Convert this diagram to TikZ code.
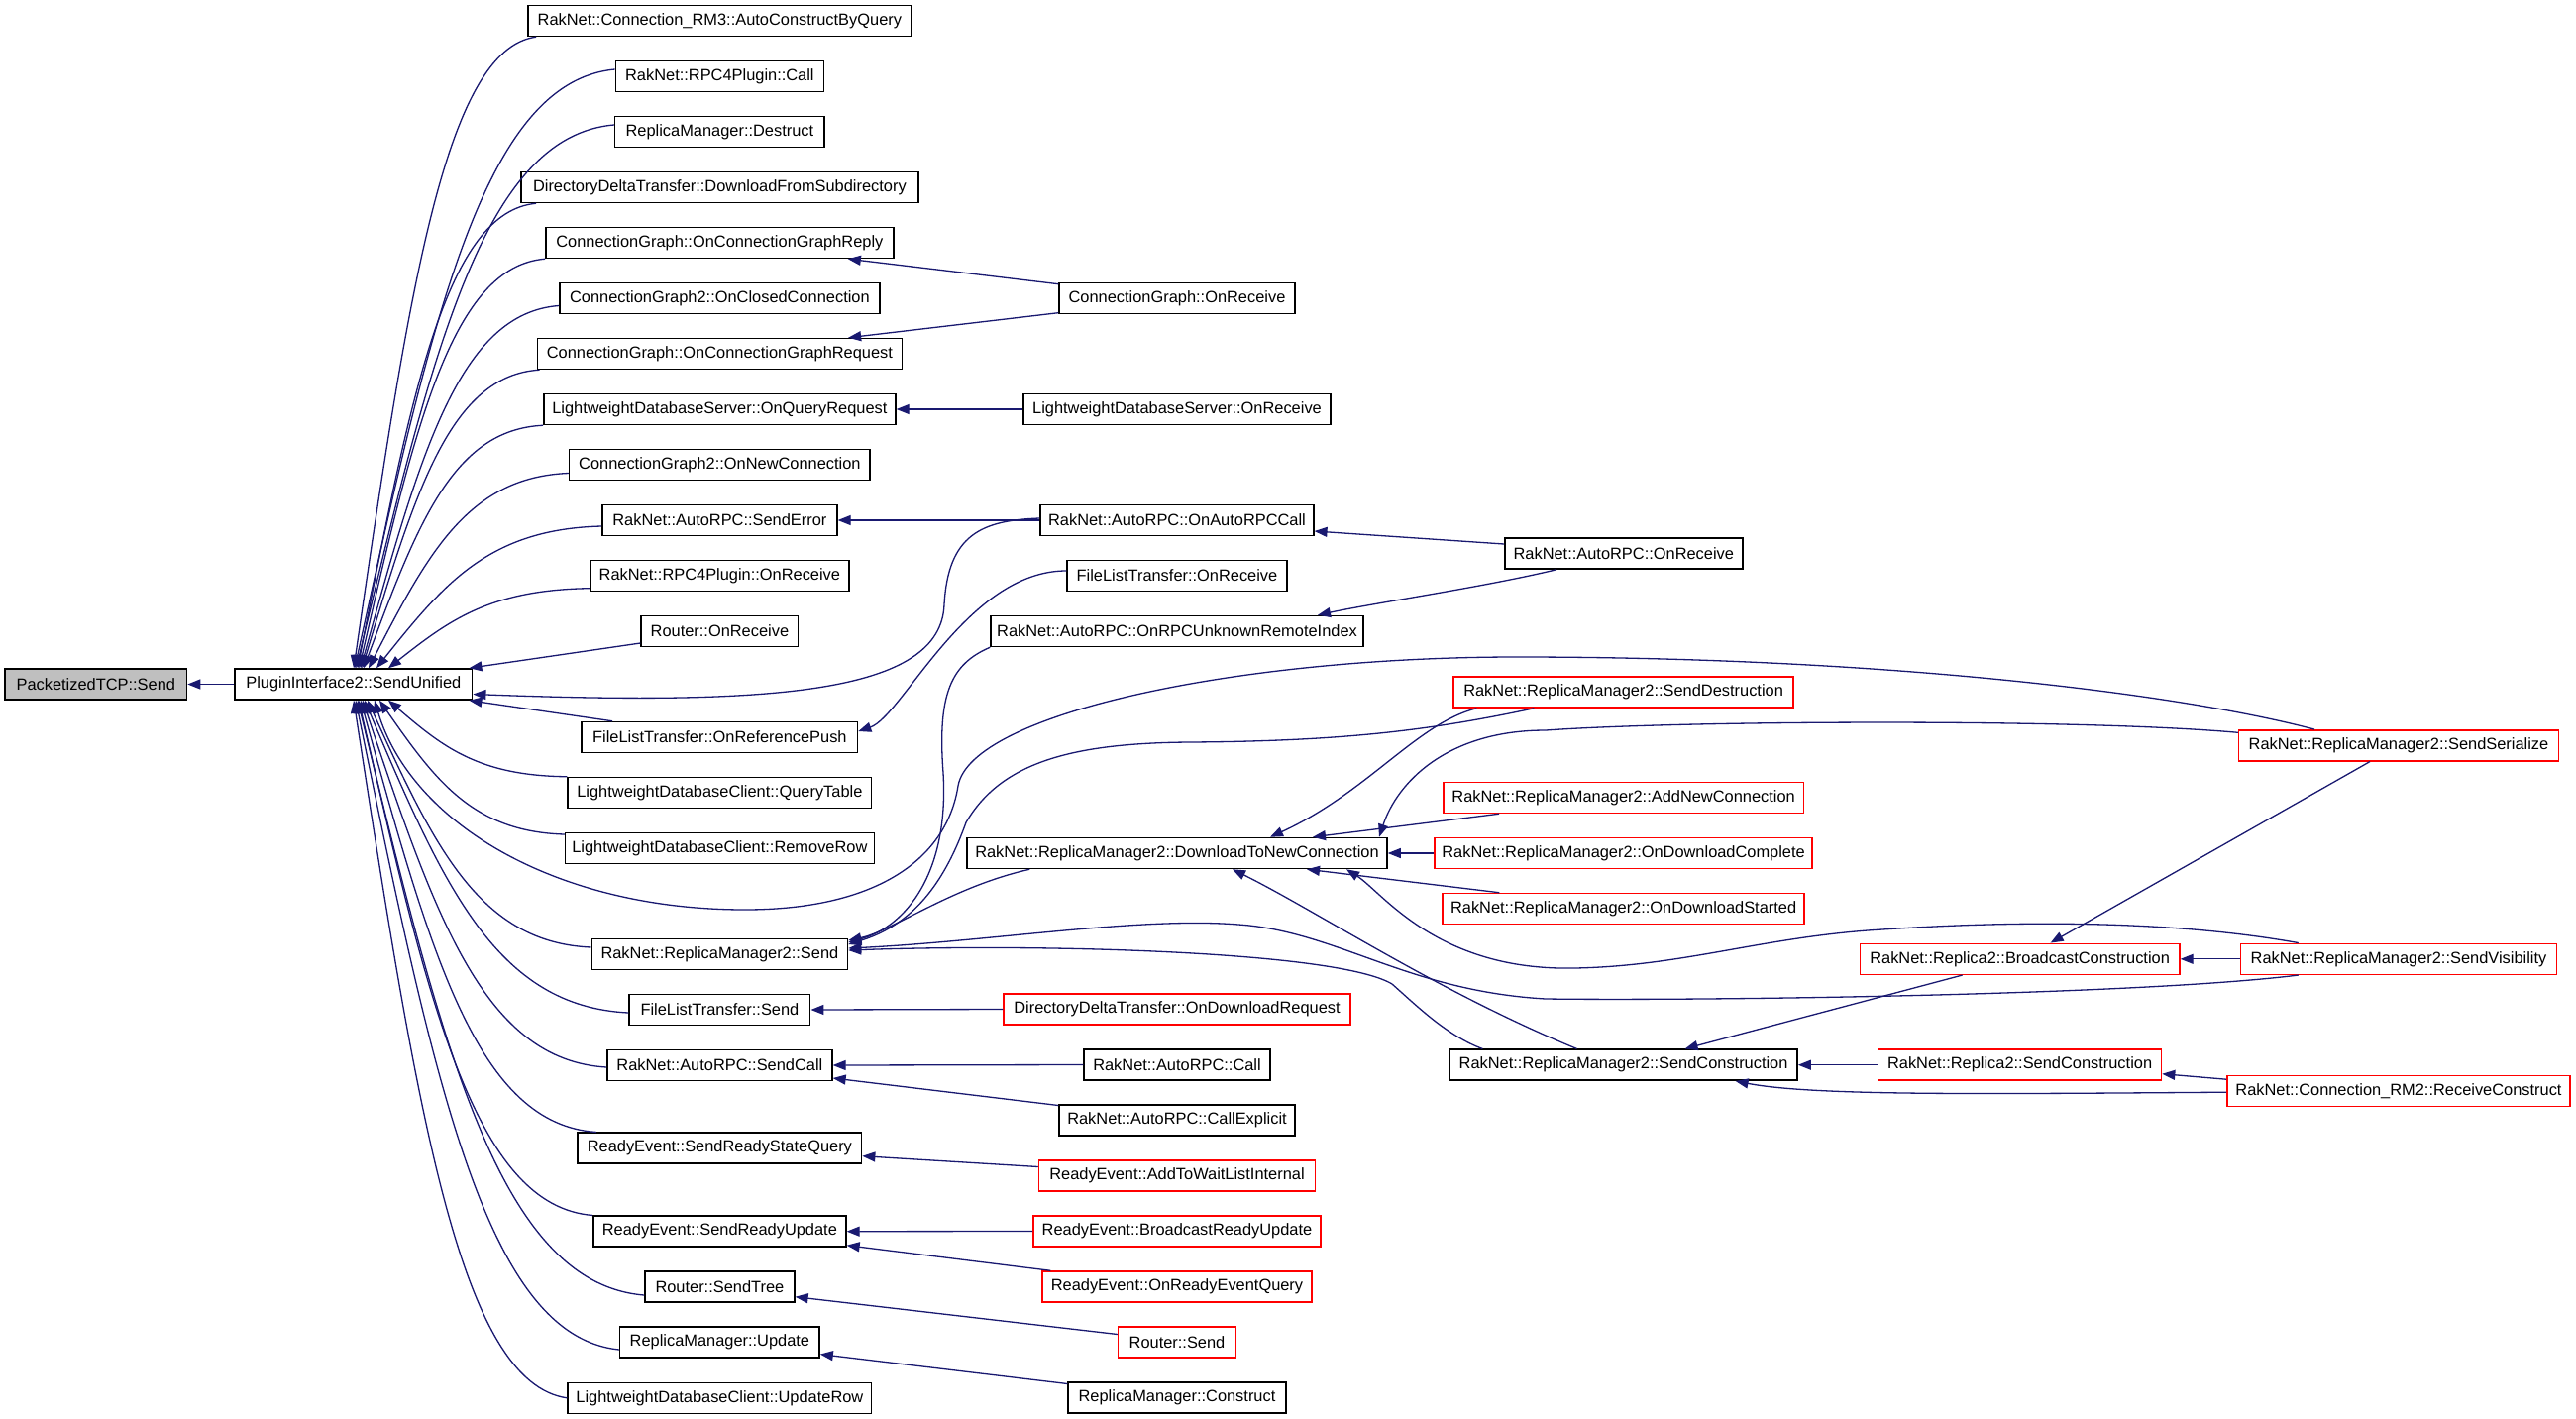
\documentclass[tikz,border=0pt]{standalone}
\usepackage{fontspec}
\setmainfont{Liberation Sans}
\usetikzlibrary{arrows.meta}
\definecolor{edgeblue}{HTML}{191970}
\definecolor{greyfill}{HTML}{BFBFBF}
\newcommand\dxfont{\fontsize{16.4}{19}\selectfont}
\tikzset{
  box/.style={draw=black, line width=1.5pt, minimum height=31pt, inner sep=0pt, font=\dxfont},
  rbox/.style={box, draw=red},
  edge/.style={draw=edgeblue, line width=1.3pt, {Triangle[length=13pt,width=10pt]}-},
}
\begin{document}
\begin{tikzpicture}[x=1pt,y=-1pt]
\useasboundingbox (0,0) rectangle (2600,1432);
% column 0/1
\node[box, fill=greyfill, minimum width=183.5pt] (pkt) at (96.8,690.5) {PacketizedTCP::Send};
\node[box, minimum width=239.7pt] (su) at (356.85,690.5) {PluginInterface2::SendUnified};
% column 2
\node[box, minimum width=387pt] (n1) at (726.4,21) {RakNet::Connection\_RM3::AutoConstructByQuery};
\node[box, minimum width=210pt] (n2) at (726.4,77) {RakNet::RPC4Plugin::Call};
\node[box, minimum width=211.5pt] (n3) at (726.4,133) {ReplicaManager::Destruct};
\node[box, minimum width=401pt] (n4) at (726.4,189) {DirectoryDeltaTransfer::DownloadFromSubdirectory};
\node[box, minimum width=351pt] (n5) at (726.4,245) {ConnectionGraph::OnConnectionGraphReply};
\node[box, minimum width=323pt] (n6) at (726.4,301) {ConnectionGraph2::OnClosedConnection};
\node[box, minimum width=368pt] (n7) at (726.4,357) {ConnectionGraph::OnConnectionGraphRequest};
\node[box, minimum width=355pt] (n8) at (726.4,413) {LightweightDatabaseServer::OnQueryRequest};
\node[box, minimum width=303.5pt] (n9) at (726.4,469) {ConnectionGraph2::OnNewConnection};
\node[box, minimum width=237pt] (n10) at (726.4,525) {RakNet::AutoRPC::SendError};
\node[box, minimum width=261pt] (n11) at (726.4,581) {RakNet::RPC4Plugin::OnReceive};
\node[box, minimum width=158.5pt] (n12) at (726.4,637) {Router::OnReceive};
\node[box, minimum width=278.4pt] (n13) at (726.4,744) {FileListTransfer::OnReferencePush};
\node[box, minimum width=306.5pt] (n14) at (726.4,800) {LightweightDatabaseClient::QueryTable};
\node[box, minimum width=311.7pt] (n15) at (726.4,856) {LightweightDatabaseClient::RemoveRow};
\node[box, minimum width=258.3pt] (n16) at (726.4,963) {RakNet::ReplicaManager2::Send};
\node[box, minimum width=182.6pt] (n17) at (726.4,1019) {FileListTransfer::Send};
\node[box, minimum width=227pt] (n18) at (726.4,1075) {RakNet::AutoRPC::SendCall};
\node[box, minimum width=286.5pt] (n19) at (726.4,1158.7) {ReadyEvent::SendReadyStateQuery};
\node[box, minimum width=255pt] (n20) at (726.4,1242.7) {ReadyEvent::SendReadyUpdate};
\node[box, minimum width=151pt] (n21) at (726.4,1298.7) {Router::SendTree};
\node[box, minimum width=201.4pt] (n22) at (726.4,1354.6) {ReplicaManager::Update};
\node[box, minimum width=306.5pt] (n23) at (726.4,1410.8) {LightweightDatabaseClient::UpdateRow};
% column 3
\node[box, minimum width=238pt] (cgr) at (1188,301) {ConnectionGraph::OnReceive};
\node[box, minimum width=309.6pt] (ldbs) at (1188,413) {LightweightDatabaseServer::OnReceive};
\node[box, minimum width=275.6pt] (arc) at (1188,525) {RakNet::AutoRPC::OnAutoRPCCall};
\node[box, minimum width=222pt] (flr) at (1188,581) {FileListTransfer::OnReceive};
\node[box, minimum width=376pt] (unk) at (1188,637) {RakNet::AutoRPC::OnRPCUnknownRemoteIndex};
\node[box, minimum width=424pt] (dtnc) at (1188,861) {RakNet::ReplicaManager2::DownloadToNewConnection};
\node[rbox, minimum width=349.7pt] (ddt) at (1188,1018.5) {DirectoryDeltaTransfer::OnDownloadRequest};
\node[box, minimum width=187.7pt] (call) at (1188,1074.5) {RakNet::AutoRPC::Call};
\node[box, minimum width=238pt] (callx) at (1188,1130.5) {RakNet::AutoRPC::CallExplicit};
\node[rbox, minimum width=279pt] (awl) at (1188,1186.5) {ReadyEvent::AddToWaitListInternal};
\node[rbox, minimum width=290.4pt] (bru) at (1188,1242.5) {ReadyEvent::BroadcastReadyUpdate};
\node[rbox, minimum width=272pt] (oreq) at (1188,1298.5) {ReadyEvent::OnReadyEventQuery};
\node[rbox, minimum width=118.8pt] (rsend) at (1188,1354.5) {Router::Send};
\node[box, minimum width=219.8pt] (rmc) at (1188,1410.5) {ReplicaManager::Construct};
% column 4
\node[box, minimum width=240pt] (arr) at (1638.8,558.5) {RakNet::AutoRPC::OnReceive};
\node[rbox, minimum width=343pt] (sdes) at (1638.6,698.5) {RakNet::ReplicaManager2::SendDestruction};
\node[rbox, minimum width=363.5pt] (anc) at (1638.6,805) {RakNet::ReplicaManager2::AddNewConnection};
\node[rbox, minimum width=381pt] (odc) at (1638.6,861) {RakNet::ReplicaManager2::OnDownloadComplete};
\node[rbox, minimum width=365pt] (ods) at (1638.6,917) {RakNet::ReplicaManager2::OnDownloadStarted};
\node[box, minimum width=351pt] (rsc) at (1638.6,1074.7) {RakNet::ReplicaManager2::SendConstruction};
% column 5
\node[rbox, minimum width=322.6pt] (bc) at (2038.6,967.8) {RakNet::Replica2::BroadcastConstruction};
\node[rbox, minimum width=286pt] (r2sc) at (2038.6,1074.7) {RakNet::Replica2::SendConstruction};
% column 6
\node[rbox, minimum width=322.6pt] (ss) at (2421,752.3) {RakNet::ReplicaManager2::SendSerialize};
\node[rbox, minimum width=319pt] (sv) at (2421,967.8) {RakNet::ReplicaManager2::SendVisibility};
\node[rbox, minimum width=346.4pt] (rc) at (2421,1101.2) {RakNet::Connection\_RM2::ReceiveConstruct};

% edges into PacketizedTCP::Send
\draw[edge] (pkt.east) -- (su.west);
% callers of SendUnified above
\draw[edge] ([xshift=0.15pt]su.north) .. controls (412.5,291.9) and (449.5,49.3) .. ([xshift=9pt]n1.south west);
\draw[edge] ([xshift=1.15pt]su.north) .. controls (437.2,312) and (490,82.1) .. ([yshift=7pt]n2.west);
\draw[edge] ([xshift=2.65pt]su.north) .. controls (437.8,345.6) and (490,137) .. ([yshift=7pt]n3.west);
\draw[edge] ([xshift=4.15pt]su.north) .. controls (415.3,392.4) and (451.5,213.4) .. ([xshift=16pt]n4.south west);
\draw[edge] ([xshift=5.65pt]su.north) .. controls (419.1,426.3) and (456.7,268.8) .. (n5.south west);
\draw[edge] ([xshift=7.15pt]su.north) .. controls (424.3,455.1) and (464.5,315.8) .. ([yshift=-7.5pt]n6.west);
\draw[edge] ([xshift=8.65pt]su.north) .. controls (419.4,493.5) and (455.2,378.5) .. ([xshift=3pt]n7.south west);
\draw[edge] ([xshift=10.15pt]su.north) .. controls (421.6,527.1) and (458,433.4) .. (n8.south west);
\draw[edge] ([xshift=15.15pt]su.north) .. controls (432.8,556.5) and (473.3,481.5) .. ([yshift=-8.5pt]n9.west);
\draw[edge] ([xshift=23.15pt]su.north) .. controls (448.3,588.6) and (493.9,533.9) .. ([yshift=-6pt]n10.west);
\draw[edge] ([xshift=35.15pt]su.north) .. controls (453.1,626.2) and (493.8,595.3) .. ([yshift=-12.7pt]n11.west);
\draw[edge] ([xshift=-4pt]su.north east) -- ([yshift=-12pt]n12.west);
% callers of SendUnified below
\draw[edge] ([xshift=-4pt]su.south east) -- ([xshift=31.6pt]n13.north west);
\draw[edge] ([xshift=35.15pt]su.south) .. controls (446.3,753.1) and (482.5,782.9) .. (n14.north west);
\draw[edge] ([xshift=26.15pt]su.south) .. controls (439.4,787.6) and (477,839.3) .. ([yshift=14pt]n15.west);
\draw[edge] ([xshift=14.15pt]su.south) .. controls (439,856) and (484.3,951) .. ([yshift=7pt]n16.west);
\draw[edge] ([xshift=11.15pt]su.south) .. controls (448.1,895.6) and (501.5,1015.7) .. ([yshift=-3pt]n17.west);
\draw[edge] ([xshift=9.15pt]su.south) .. controls (440.1,928.6) and (489.5,1069.6) .. ([yshift=-2pt]n18.west);
\draw[edge] ([xshift=7.15pt]su.south) .. controls (435.7,968.5) and (483.5,1134.7) .. ([xshift=19.5pt]n19.north west);
\draw[edge] ([xshift=5.15pt]su.south) .. controls (433.1,1018.9) and (480.5,1217.1) .. (n20.north west);
\draw[edge] ([xshift=4.15pt]su.south) .. controls (447.9,1066.6) and (505.7,1295) .. ([yshift=-8.3pt]n21.west);
\draw[edge] ([xshift=2.15pt]su.south) .. controls (439,1099.6) and (492.3,1348.9) .. ([yshift=-7.4pt]n22.west);
\draw[edge] ([xshift=0.15pt]su.south) .. controls (421.8,1128.2) and (465,1395.5) .. (n23.west);
% OnAutoRPCCall -> SendUnified
\draw[edge] ([yshift=-10pt]su.east) .. controls (780,712) and (950,700) .. (953,610) .. controls (957,540) and (990,525) .. ([yshift=2pt]arc.west);
% SendSerialize -> SendUnified
\draw[edge] ([xshift=21.15pt]su.south) .. controls (415,830) and (560,918) .. (752,918) .. controls (880,918) and (955,870) .. (967,793) .. controls (980,720) and (1250,663) .. (1531,663) .. controls (1900,663) and (2200,700) .. ([xshift=77pt]ss.north west);

% column 3 -> column 2
\draw[edge] ([xshift=-46.8pt]n5.south east) -- ([yshift=14.3pt]cgr.west);
\draw[edge] ([xshift=-55pt]n7.north east) -- ([yshift=-14.7pt]cgr.west);
\draw[edge] (n8.east) -- (ldbs.west);
\draw[edge] (n10.east) -- (arc.west);
\draw[edge] ([yshift=6pt]n13.east) .. controls (911,723) and (976,576) .. ([yshift=5pt]flr.west);
\draw[edge] ([yshift=12pt]n16.east) .. controls (915,935) and (958,880) .. (952,780) .. controls (946,700) and (960,670) .. (unk.south west);
\draw[edge] ([yshift=14pt]n16.east) .. controls (900,940) and (960,895) .. ([xshift=64pt]dtnc.south west);
\draw[edge] (n17.east) -- (ddt.west);
\draw[edge] (n18.east) -- (call.west);
\draw[edge] ([yshift=-13pt]n18.east) -- ([yshift=15pt]callx.west);
\draw[edge] ([yshift=-8pt]n19.east) -- ([yshift=9pt]awl.west);
\draw[edge] (n20.east) -- (bru.west);
\draw[edge] ([yshift=-14pt]n20.east) -- ([xshift=9pt]oreq.north west);
\draw[edge] ([yshift=-10pt]n21.east) -- ([yshift=8pt]rsend.west);
\draw[edge] ([yshift=-12pt]n22.east) -- ([yshift=14pt]rmc.west);

% column 4 -> ...
\draw[edge] ([yshift=-11pt]arc.east) -- ([yshift=9.5pt]arr.west);
\draw[edge] ([xshift=142pt]unk.north) .. controls (1390,608) and (1500,592) .. ([xshift=53pt]arr.south west);
\draw[edge] ([yshift=10pt]n16.east) .. controls (915,935) and (950,900) .. (975,830) .. controls (1010,770) and (1080,750) .. (1200,749) .. controls (1350,748) and (1440,738) .. ([xshift=82pt]sdes.south west);
\draw[edge] ([xshift=94pt]dtnc.north) .. controls (1380,800) and (1430,730) .. ([xshift=24pt]sdes.south west);
\draw[edge] ([xshift=137pt]dtnc.north) -- ([xshift=57pt]anc.south west);
\draw[edge] (dtnc.east) -- (odc.west);
\draw[edge] ([xshift=131pt]dtnc.south) -- ([xshift=58pt]ods.north west);
\draw[edge] ([xshift=56pt]dtnc.south) .. controls (1330,920) and (1450,1000) .. ([xshift=-47pt]rsc.north);
\draw[edge] ([yshift=4pt]n16.east) .. controls (1050,952) and (1350,960) .. (1405,993) .. controls (1430,1015) and (1460,1045) .. ([xshift=34pt]rsc.north west);

% column 5/6
\draw[edge] ([xshift=204pt]dtnc.north) .. controls (1410,790) and (1460,737) .. (1560,737) .. controls (1700,727) and (2100,725) .. ([yshift=13pt]ss.west);
\draw[edge] ([xshift=31pt]bc.north) -- ([xshift=-29pt]ss.south);
\draw[edge] ([xshift=171pt]dtnc.south) .. controls (1395,900) and (1450,980) .. (1589,977) .. controls (1700,975) and (1780,945) .. (1900,938) .. controls (2050,928) and (2200,930) .. ([xshift=59pt]sv.north west);
\draw[edge] ([yshift=6pt]n16.east) .. controls (1000,950) and (1150,925) .. (1250,933) .. controls (1350,940) and (1420,1000) .. (1560,1008) .. controls (1700,1010) and (2150,1005) .. ([xshift=59pt]sv.south west);
\draw[edge] (bc.east) -- (sv.west);
\draw[edge] ([xshift=62pt]rsc.north) -- ([xshift=-58pt]bc.south);
\draw[edge] (rsc.east) -- (r2sc.west);
\draw[edge] ([yshift=-9pt]r2sc.east) -- ([yshift=12pt]rc.west);
\draw[edge] ([xshift=113pt]rsc.south) .. controls (1830,1106) and (2000,1104) .. ([yshift=-1pt]rc.west);
\end{tikzpicture}
\end{document}
